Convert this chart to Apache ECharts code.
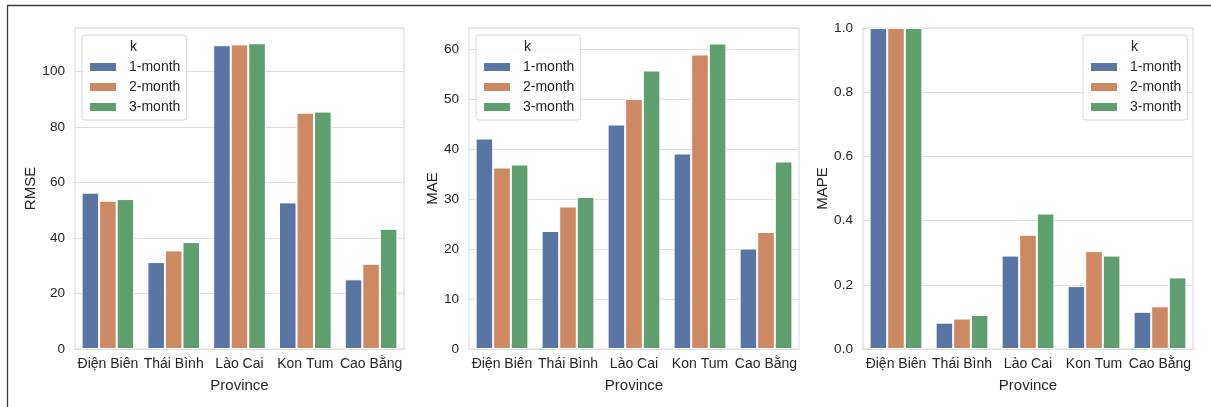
<!DOCTYPE html>
<html>
<head>
<meta charset="utf-8">
<script src="https://cdn.jsdelivr.net/npm/echarts@6/dist/echarts.min.js"></script>
<style>
html,body{margin:0;padding:0;background:#fff;}
#chart{width:1211px;height:407px;}
</style>
</head>
<body>
<div id="chart"></div>
<script>
var provinces = ['Điện Biên', 'Thái Bình', 'Lào Cai', 'Kon Tum', 'Cao Bằng'];
var horizons = ['1-month', '2-month', '3-month'];
var colors = ['#5975a4', '#cc8963', '#5f9e6e'];

var rmse1 = [56.3, 31.3, 109.4, 52.8, 25.1];
var rmse2 = [53.4, 35.5, 109.7, 85.1, 30.7];
var rmse3 = [54.0, 38.5, 110.1, 85.5, 43.3];

var mae1 = [42.1, 23.6, 44.9, 39.1, 20.1];
var mae2 = [36.3, 28.5, 50.0, 58.9, 23.4];
var mae3 = [36.9, 30.4, 55.7, 61.1, 37.5];

var mape1 = [1.0, 0.082, 0.291, 0.196, 0.116];
var mape2 = [1.0, 0.095, 0.356, 0.305, 0.133];
var mape3 = [1.0, 0.106, 0.422, 0.291, 0.223];

var panels = [
  {name: 'RMSE', data: [rmse1, rmse2, rmse3], max: 115.6, interval: 20, dec: 0, left: 75, width: 329, legendLeft: 82, nameGap: 36},
  {name: 'MAE', data: [mae1, mae2, mae3], max: 64.2, interval: 10, dec: 0, left: 469, width: 330, legendLeft: 476, nameGap: 28},
  {name: 'MAPE', data: [mape1, mape2, mape3], max: 1.0, interval: 0.2, dec: 1, left: 863, width: 330, legendLeft: 1083, nameGap: 31}
];

var FONT = '"Liberation Sans", Arial, sans-serif';
var TXT = '#262626';
var GRIDC = '#dedede';

var grids = [], xAxes = [], yAxes = [], series = [], legends = [], graphics = [];
panels.forEach(function (p, i) {
  grids.push({left: p.left, top: 28, width: p.width, height: 321, show: true,
    borderColor: GRIDC, borderWidth: 1.2, backgroundColor: 'transparent', containLabel: false});
  xAxes.push({type: 'category', gridIndex: i, data: provinces,
    name: 'Province', nameLocation: 'middle', nameGap: 29,
    nameTextStyle: {fontFamily: FONT, fontSize: 15, color: TXT},
    axisLine: {show: false}, axisTick: {show: false},
    axisLabel: {fontFamily: FONT, fontSize: 14, color: TXT, margin: 8, interval: 0},
    splitLine: {show: false}});
  yAxes.push({type: 'value', gridIndex: i, min: 0, max: p.max, interval: p.interval,
    name: p.name, nameLocation: 'middle', nameGap: p.nameGap,
    nameTextStyle: {fontFamily: FONT, fontSize: 15, color: TXT},
    axisLine: {show: false}, axisTick: {show: false},
    axisLabel: {fontFamily: FONT, fontSize: 13.6, color: TXT, margin: 10, showMaxLabel: p.dec === 1,
      formatter: function (v) { return v.toFixed(p.dec); }},
    splitLine: {show: true, lineStyle: {color: GRIDC, width: 1.2}}});
  horizons.forEach(function (h, j) {
    series.push({type: 'bar', name: h, xAxisIndex: i, yAxisIndex: i, data: p.data[j],
      barCategoryGap: '20%', barGap: '0%',
      itemStyle: {color: colors[j], borderColor: '#ffffff', borderWidth: 1},
      emphasis: {disabled: true}, animation: false});
  });
  legends.push({data: horizons, orient: 'vertical', left: p.legendLeft, top: 35,
    padding: [25, 6, 6, 6], itemWidth: 28, itemHeight: 10, itemGap: 6,
    backgroundColor: 'rgba(255,255,255,0.85)', borderColor: '#d8d8d8', borderWidth: 1, borderRadius: 3,
    selectedMode: false, icon: 'rect',
    textStyle: {fontFamily: FONT, fontSize: 14, color: TXT, padding: [0, 0, 0, 7]}});
  graphics.push({type: 'text', left: p.legendLeft + 48, top: 40, z: 100,
    style: {text: 'k', font: '14px ' + FONT, fill: TXT}});
});

graphics.push({type: 'line', shape: {x1: 7, y1: 5.5, x2: 1211, y2: 5.5}, style: {stroke: '#3a3a3a', lineWidth: 1.3}});
graphics.push({type: 'line', shape: {x1: 7.5, y1: 5, x2: 7.5, y2: 407}, style: {stroke: '#3a3a3a', lineWidth: 1.3}});

var chart = echarts.init(document.getElementById('chart'), null, {renderer: 'canvas'});
chart.setOption({
  backgroundColor: '#ffffff',
  animation: false,
  color: colors,
  grid: grids, xAxis: xAxes, yAxis: yAxes, series: series, legend: legends, graphic: graphics
});
</script>
</body>
</html>
